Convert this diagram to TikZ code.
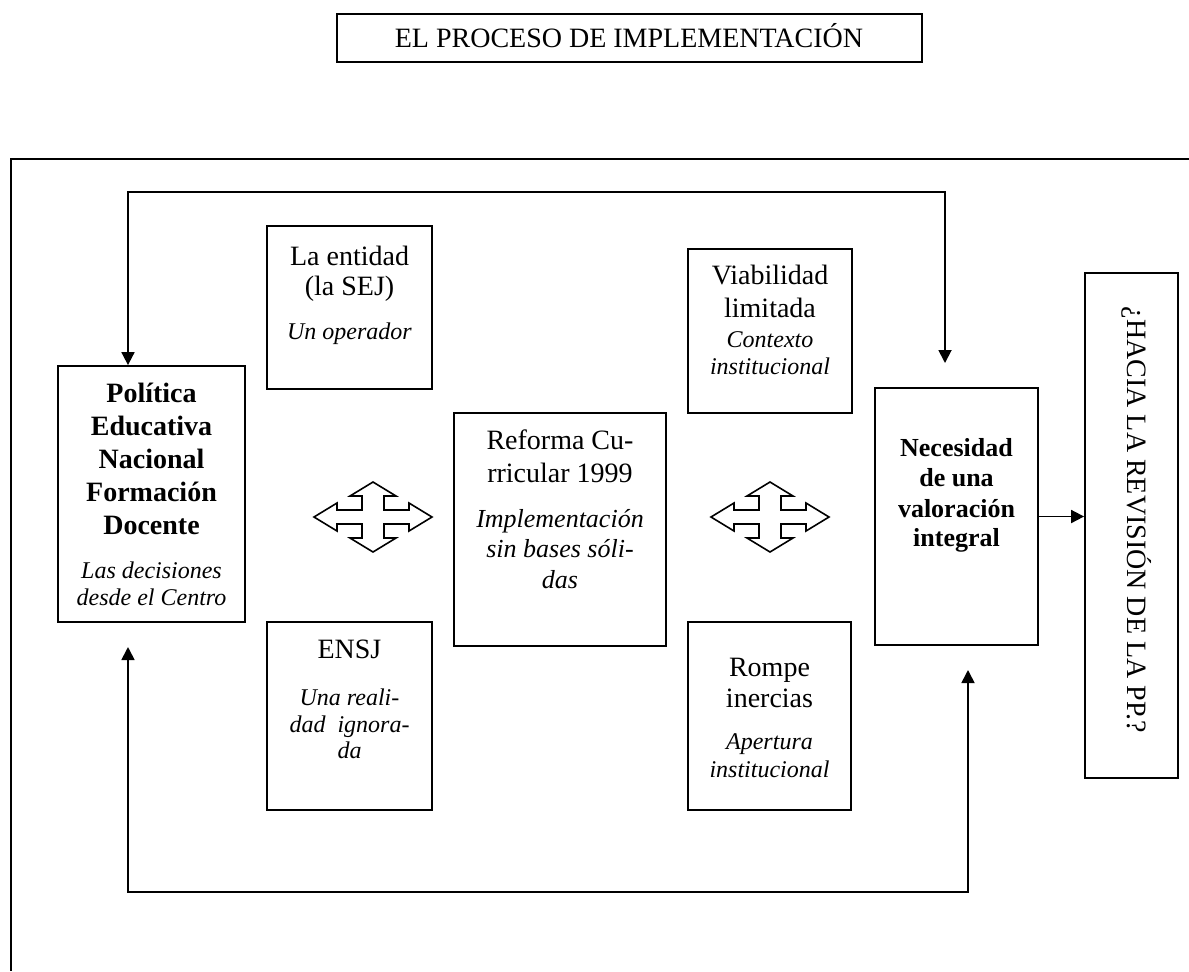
\documentclass[tikz,border=0pt]{standalone}
\usepackage{fontspec}
\setmainfont{Liberation Serif}
\usetikzlibrary{arrows.meta,fit}
\newcommand\fReg{\fontsize{14}{16}\selectfont}
\newcommand\fBold{\fontsize{14}{16}\selectfont\bfseries}
\newcommand\fNec{\fontsize{13}{15}\selectfont\bfseries}
\newcommand\fIt{\fontsize{12}{14}\selectfont\itshape}
\newcommand\fItm{\fontsize{13}{15}\selectfont\itshape}
\newcommand\tline[5]{\node[txt,font=#4] (#1) at (#2,#3) {#5};}
\tikzset{
  box/.style={draw, line width=0.9pt, inner sep=0pt},
  txt/.style={anchor=base, inner sep=0pt},
  conn/.style={line width=0.9pt, {Triangle[length=6.5pt,width=6.5pt]}-{Triangle[length=6.5pt,width=6.5pt]}},
  arr/.style={line width=0.9pt, -{Triangle[length=6.5pt,width=6.5pt]}},
  crossarrow/.style={draw, line width=0.8pt, line join=miter}
}
\begin{document}
\begin{tikzpicture}[x=0.5pt,y=-0.5pt]
\useasboundingbox (0,0) rectangle (1189,971);
% title
\node[box, fit={(337,14) (922,62)}] (title) {};
\tline{titleT}{629}{47}{\fReg}{EL PROCESO DE IMPLEMENTACIÓN}
% outer frame
\coordinate (frR) at (1189,159);
\coordinate (frC) at (11,159);
\coordinate (frB) at (11,971);
\draw[line width=0.9pt] (frR) -- (frC) -- (frB);
% boxes
\node[box, fit={(58,366) (245,622)}] (pol) {};
\node[box, fit={(267,226) (432,389)}] (ent) {};
\node[box, fit={(267,622) (432,810)}] (ensj) {};
\node[box, fit={(454,413) (666,646)}] (ref) {};
\node[box, fit={(688,249) (852,413)}] (via) {};
\node[box, fit={(688,622) (851,810)}] (rom) {};
\node[box, fit={(875,388) (1038,645)}] (nec) {};
\node[box, fit={(1085,273) (1178,778)}] (hac) {};
% texts
\tline{pA}{151.5}{402}{\fBold}{Política}
\tline{pB}{151.5}{435}{\fBold}{Educativa}
\tline{pC}{151.5}{468}{\fBold}{Nacional}
\tline{pD}{151.5}{501}{\fBold}{Formación}
\tline{pE}{151.5}{534}{\fBold}{Docente}
\tline{pF}{151.5}{578}{\fIt}{Las decisiones}
\tline{pG}{151.5}{605}{\fIt}{desde el Centro}
\tline{eA}{349.5}{265}{\fReg}{La entidad}
\tline{eB}{349.5}{295}{\fReg}{(la SEJ)}
\tline{eC}{349.5}{339}{\fIt}{Un operador}
\tline{vA}{770}{284}{\fReg}{Viabilidad}
\tline{vB}{770}{317}{\fReg}{limitada}
\tline{vC}{770}{347}{\fIt}{Contexto}
\tline{vD}{770}{374}{\fIt}{institucional}
\tline{rA}{560}{449}{\fReg}{Reforma Cu-}
\tline{rB}{560}{482}{\fReg}{rricular 1999}
\tline{rC}{560}{527}{\fItm}{Implementación}
\tline{rD}{560}{557}{\fItm}{sin bases sóli-}
\tline{rE}{560}{588}{\fItm}{das}
\tline{sA}{349.5}{658}{\fReg}{ENSJ}
\tline{sB}{349.5}{705}{\fIt}{Una reali-}
\tline{sC}{349.5}{732}{\fIt}{dad\enspace ignora-}
\tline{sD}{349.5}{758}{\fIt}{da}
\tline{mA}{769.5}{676}{\fReg}{Rompe}
\tline{mB}{769.5}{707}{\fReg}{inercias}
\tline{mC}{769.5}{749}{\fIt}{Apertura}
\tline{mD}{769.5}{777}{\fIt}{institucional}
\tline{nA}{956.5}{456}{\fNec}{Necesidad}
\tline{nB}{956.5}{486}{\fNec}{de una}
\tline{nC}{956.5}{517}{\fNec}{valoración}
\tline{nD}{956.5}{546}{\fNec}{integral}
\node[rotate=-90, inner sep=0pt, font=\fReg] (hacT) at (1137,520) {¿HACIA LA REVISIÓN DE LA PP.?};
% cross arrows
\foreach \cx in {373,770}{
\draw[crossarrow, shift={(\cx,517)}]
 (59,0) -- (36,-14) -- (36,-7) -- (11,-7) -- (11,-21) -- (23,-21) -- (0,-35)
 -- (-23,-21) -- (-11,-21) -- (-11,-7) -- (-36,-7) -- (-36,-14) -- (-59,0)
 -- (-36,14) -- (-36,7) -- (-11,7) -- (-11,21) -- (-23,21) -- (0,35)
 -- (23,21) -- (11,21) -- (11,7) -- (36,7) -- (36,14) -- cycle;
}
% feedback loop
\coordinate (tl) at (128,192);
\coordinate (tr) at (945,192);
\coordinate (bl) at (128,892);
\coordinate (br) at (968,892);
\coordinate (necTop) at (945,363);
\coordinate (polBot) at (128,647);
\coordinate (necBot) at (968,670);
\draw[conn] (pol.north -| tl) -- (tl) -- (tr) -- (necTop);
\draw[conn] (polBot) -- (bl) -- (br) -- (necBot);
\draw[arr] (nec.east) -- (nec.east -| hac.west);
\end{tikzpicture}
\end{document}
